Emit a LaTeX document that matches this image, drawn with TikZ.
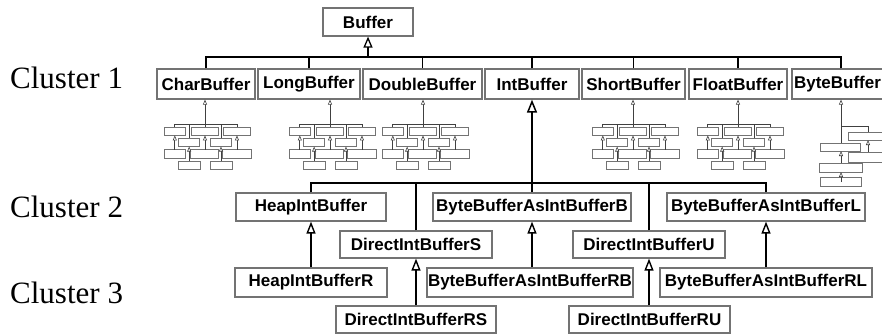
\documentclass[tikz,border=0pt]{standalone}
\usepackage{fontspec}
\setmainfont{Liberation Serif}
\setsansfont{Liberation Sans}
\usetikzlibrary{arrows.meta}
\begin{document}
\begin{tikzpicture}[x=1pt,y=-1pt,
  box/.style={draw=black!55, line width=1.2pt, fill=white, inner sep=0pt,
    font=\sffamily\bfseries\fontsize{17}{19}\selectfont},
  bx/.style n args={2}{box, minimum width=#1pt, minimum height=#2pt},
  clab/.style={inner sep=0pt, font=\fontsize{31}{36}\selectfont},
  topline/.style={line width=1.6pt, black},
  intline/.style={line width=2pt, black},
  toptip/.style={-{Triangle[open,fill=white,line width=1.3pt,length=11pt,width=9pt]}},
  inttip/.style={-{Triangle[open,fill=white,line width=1.5pt,length=13pt,width=10pt]}},
  lowtip/.style={-{Triangle[open,fill=white,line width=1.4pt,length=12pt,width=9pt]}},
  miniline/.style={line width=0.8pt, black!75},
  minibox/.style={line width=0.8pt, draw=black!55, fill=white},
  minitip/.style={-{Triangle[open,fill=white,line width=0.6pt,length=5pt,width=4pt]}},
  minitree/.pic={
    \begin{scope}[xscale=0.1366, yscale=0.3, xshift=-532pt, yshift=183pt]
      \foreach \a/\b/\c/\d in {236/193/386/221, 433/193/631/221, 667/193/865/221,
          340/231/492/258, 573/231/725/258, 235/268/387/297, 427/268/633/297,
          660/268/872/297, 336/306/496/333, 569/306/730/333}
        \draw[minibox] (\a,\b) rectangle (\c,\d);
      \draw[miniline] (311,193) |- (766,183) -- (766,193);
      \draw[miniline] (416,183) -- (416,231);
      \draw[miniline] (649,183) -- (649,231);
      \draw[miniline] (532,183) -- (532,193);
      \foreach \x/\ya/\yb in {311/268/221, 416/306/258, 532/268/221, 649/306/258, 766/268/221}
        \draw[miniline,minitip] (\x,\ya) -- (\x,\yb);
    \end{scope}
  }]
\useasboundingbox (0,0) rectangle (882,335);
\clip (0,0) rectangle (882,335);

% cluster labels
\node[clab, anchor=base west] (c1) at (10,88) {Cluster 1};
\node[clab, anchor=base west] (c2) at (10,217) {Cluster 2};
\node[clab, anchor=base west] (c3) at (10,303) {Cluster 3};

% top level
\node[bx={90}{28}] (buffer) at (368,22) {Buffer};
\node[bx={98}{30}] (char) at (206,84) {CharBuffer};
\node[bx={102}{30}] (long) at (309,84) {LongBuffer};
\node[bx={119}{30}] (double) at (422.5,84) {DoubleBuffer};
\node[bx={94}{30}] (int) at (532,84) {IntBuffer};
\node[bx={103}{30}] (short) at (633.5,84) {ShortBuffer};
\node[bx={98}{30}] (float) at (738,84) {FloatBuffer};
\node[bx={98}{30}] (byte) at (841,84) {ByteBuffer\hspace*{7pt}};

\coordinate (tb) at (368,57);
\foreach \n in {char,long,double,int,short,float,byte}
  \draw[topline] (\n.north) |- (tb);
\draw[topline,toptip] (tb) -- (buffer.south);

% cluster 2
\node[bx={150}{28}] (heap) at (311,207) {HeapIntBuffer};
\node[bx={198}{28}] (bbb) at (532,207) {ByteBufferAsIntBufferB};
\node[bx={198}{28}] (bbl) at (766,207) {ByteBufferAsIntBufferL};
\node[bx={152}{27}] (ds) at (416,244.5) {DirectIntBufferS};
\node[bx={152}{27}] (du) at (649,244.5) {DirectIntBufferU};

% cluster 3
\node[bx={152}{29}] (heapr) at (311,282.5) {HeapIntBufferR};
\node[bx={206}{29}] (bbrb) at (530,282.5) {ByteBufferAsIntBufferRB};
\node[bx={212}{29}] (bbrl) at (766,282.5) {ByteBufferAsIntBufferRL};
\node[bx={160}{27}] (drs) at (416,319.5) {DirectIntBufferRS};
\node[bx={161}{27}] (dru) at (649.5,319.5) {DirectIntBufferRU};

\coordinate (lb) at (532,183);
\draw[intline,inttip] (lb) -- (int.south);
\foreach \n in {heap,ds,bbb,du,bbl}
  \draw[intline] (\n.north) |- (lb);
\draw[intline,lowtip] (heapr.north) -- (heap.south);
\draw[intline,lowtip] (drs.north) -- (ds.south);
\draw[intline,lowtip] (bbrb.north -| bbb.south) -- (bbb.south);
\draw[intline,lowtip] (dru.north -| du.south) -- (du.south);
\draw[intline,lowtip] (bbrl.north) -- (bbl.south);

% miniature hierarchies
\foreach \n/\x in {char/205, long/330, double/423, short/633, float/738}{
  \coordinate (m-\n) at (\x,124);
  \draw[miniline,minitip] (m-\n) -- (m-\n |- \n.south);
  \pic at (m-\n) {minitree};
}

% ByteBuffer miniature
\coordinate (m-byte) at (841,143);
\draw[miniline,minitip] (m-byte) -- (m-byte |- byte.south);
\draw[miniline] (841,126) -- (868,126) -- (868,132);
\draw[minibox] (848,132) rectangle (892,140);
\draw[minibox] (820,143) rectangle (860,151);
\draw[minibox] (848,152) rectangle (892,162);
\draw[minibox] (819,163) rectangle (862,172);
\draw[minibox] (820,177) rectangle (861,186);
\draw[miniline,minitip] (868,152) -- (868,140);
\draw[miniline,minitip] (841,163) -- (841,151);
\draw[miniline,minitip] (841,182) -- (841,172);
\end{tikzpicture}
\end{document}
